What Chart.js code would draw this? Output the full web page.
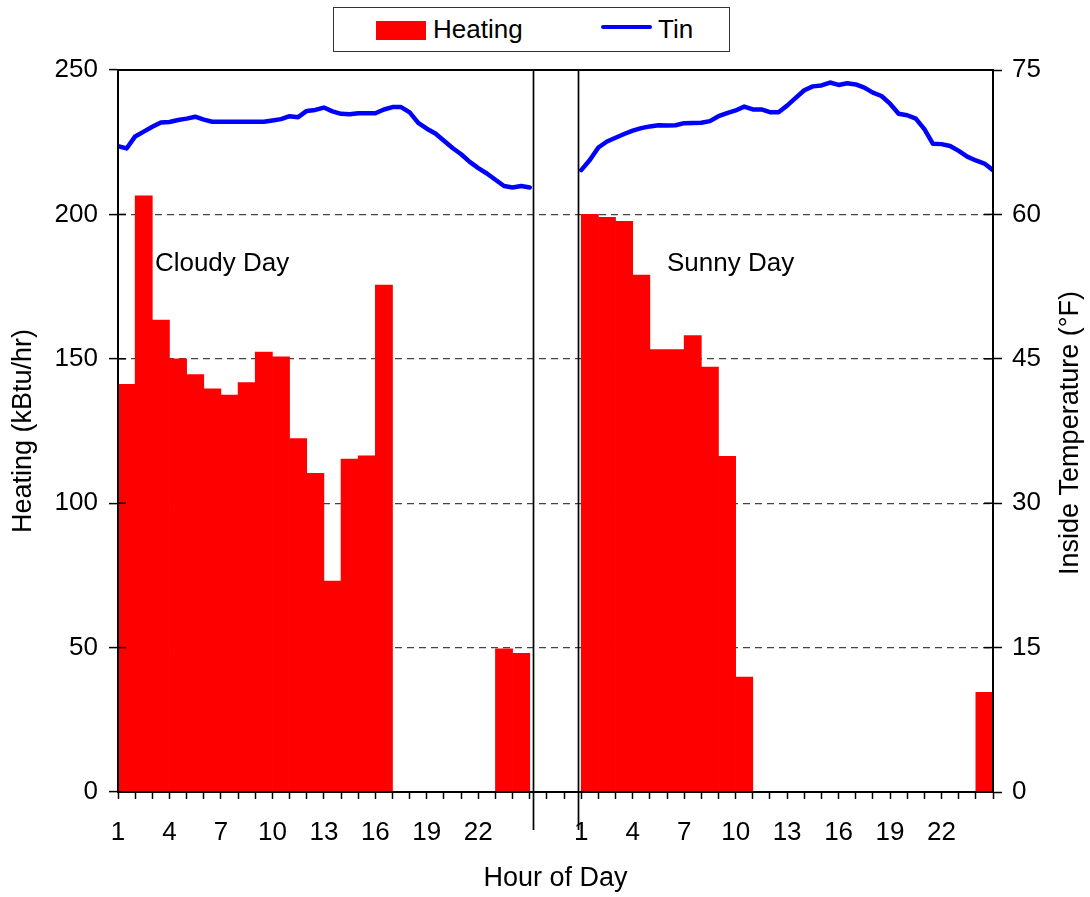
<!DOCTYPE html>
<html>
<head>
<meta charset="utf-8">
<title>Heating and inside temperature</title>
<script src="https://cdn.jsdelivr.net/npm/chart.js@4.4.1/dist/chart.umd.min.js"></script>
<style>
    html, body { margin: 0; padding: 0; background: #fff; }
    #wrap { position: relative; width: 1090px; height: 897px; overflow: hidden; }
    #legend {
        position: absolute; left: 333px; top: 7px; width: 397px; height: 45px;
        box-sizing: border-box; border: 1px solid #333; background: #fff;
        font-family: 'Liberation Sans', Arial, sans-serif; font-size: 26px; color: #000;
    }
    #legend .item { position: absolute; top: 0; height: 43px; display: flex; align-items: center; }
    #legend .swatch { margin-right: 7px; }
</style>
</head>
<body>
<div id="wrap">
    <canvas id="chart"></canvas>
    <div id="legend"></div>
</div>
<script>
// Heating load per hour (kBtu/hr), hours 1..24
const heatingCloudy = [141.2, 206.4, 163.4, 150, 144.5, 139.6, 137.4, 141.8, 152.3, 150.7, 122.4, 110.3,
                       73, 115.3, 116.4, 175.5, 0, 0, 0, 0, 0, 0, 49.6, 48];
const heatingSunny = [200, 199, 197.6, 179, 153.2, 153.2, 158, 147.1, 116.2, 39.8, 0, 0,
                      0, 0, 0, 0, 0, 0, 0, 0, 0, 0, 0, 34.5];

// Inside temperature (F), every half hour from hour 1 to hour 25
const tinCloudy = [67.1, 66.85, 68.1, 68.6, 69.1, 69.55, 69.6, 69.8, 69.95, 70.15,
                   69.85, 69.62, 69.62, 69.62, 69.62, 69.62, 69.62, 69.62, 69.75, 69.9,
                   70.2, 70.1, 70.75, 70.85, 71.1, 70.7, 70.45, 70.4, 70.5, 70.5,
                   70.5, 70.9, 71.15, 71.15, 70.6, 69.5, 68.9, 68.4, 67.65, 66.9,
                   66.25, 65.45, 64.8, 64.25, 63.6, 62.95, 62.8, 62.95, 62.8];
const tinSunny = [64.6, 65.65, 66.95, 67.57, 67.96, 68.35, 68.7, 68.96, 69.14, 69.25,
                  69.24, 69.26, 69.48, 69.5, 69.52, 69.69, 70.2, 70.52, 70.8, 71.2,
                  70.9, 70.9, 70.62, 70.62, 71.3, 72.1, 72.9, 73.3, 73.4, 73.7,
                  73.45, 73.62, 73.5, 73.17, 72.65, 72.3, 71.5, 70.45, 70.3, 69.95,
                  68.85, 67.33, 67.3, 67.1, 66.6, 66.0, 65.6, 65.28, 64.6];

const hourLabels = [1, 4, 7, 10, 13, 16, 19, 22];
const dayNames = ['Cloudy Day', 'Sunny Day'];

// second day is drawn 27 hour-slots after the first one
const dayTwoOffset = 27;
const separatorHours = [25.2, 27.8];
const noteHours = [3.15, 33.0];
const noteHeat = 180.5;

const FONT = "'Liberation Sans', Arial, sans-serif";
Chart.defaults.font.family = FONT;
Chart.defaults.color = '#000';

function buildBars() {
    const pts = [];
    heatingCloudy.forEach((v, i) => pts.push({ x: i + 1.5, y: v }));
    heatingSunny.forEach((v, i) => pts.push({ x: dayTwoOffset + i + 1.5, y: v }));
    return pts;
}

function buildTin() {
    const pts = [];
    tinCloudy.forEach((v, i) => pts.push({ x: 1 + i * 0.5, y: v }));
    pts.push({ x: 26, y: null });
    tinSunny.forEach((v, i) => pts.push({ x: dayTwoOffset + 1 + i * 0.5, y: v }));
    return pts;
}

function xTickLabel(value) {
    if (value <= 24 && hourLabels.includes(value)) return String(value);
    if (value > dayTwoOffset && hourLabels.includes(value - dayTwoOffset)) return String(value - dayTwoOffset);
    return '';
}

// frame, separators, inner ticks, day notes and right axis title
const extrasPlugin = {
    id: 'extras',
    afterDraw(chart) {
        const { ctx, chartArea: a, scales } = chart;
        ctx.save();
        ctx.strokeStyle = '#000';

        ctx.lineWidth = 1.7;
        separatorHours.forEach(h => {
            const x = Math.round(scales.x.getPixelForValue(h)) + 0.5;
            ctx.beginPath();
            ctx.moveTo(x, a.top);
            ctx.lineTo(x, a.bottom + 38);
            ctx.stroke();
        });

        ctx.lineWidth = 1.5;
        scales.y.ticks.forEach((t, i) => {
            const y = scales.y.getPixelForTick(i);
            ctx.beginPath(); ctx.moveTo(a.left, y); ctx.lineTo(a.left + 8, y); ctx.stroke();
        });
        scales.y1.ticks.forEach((t, i) => {
            const y = scales.y1.getPixelForTick(i);
            ctx.beginPath(); ctx.moveTo(a.right - 9, y); ctx.lineTo(a.right, y); ctx.stroke();
        });

        ctx.lineWidth = 2;
        ctx.strokeRect(a.left, a.top, a.right - a.left, a.bottom - a.top);

        ctx.fillStyle = '#000';
        ctx.font = '26px ' + FONT;
        ctx.textAlign = 'left';
        ctx.textBaseline = 'alphabetic';
        dayNames.forEach((name, i) => {
            ctx.fillText(name, scales.x.getPixelForValue(noteHours[i]), scales.y.getPixelForValue(noteHeat));
        });

        ctx.font = '27px ' + FONT;
        ctx.textAlign = 'center';
        ctx.textBaseline = 'middle';
        ctx.translate(scales.y1.right - 19, (a.top + a.bottom) / 2 + 2);
        ctx.rotate(-Math.PI / 2);
        ctx.fillText('Inside Temperature (\u00B0F)', 0, 0);
        ctx.restore();
    }
};

const chart = new Chart(document.getElementById('chart'), {
    data: {
        datasets: [
            {
                type: 'line',
                label: 'Tin',
                data: buildTin(),
                xAxisID: 'x',
                yAxisID: 'y1',
                borderColor: '#0000FF',
                backgroundColor: '#0000FF',
                borderWidth: 4.5,
                borderJoinStyle: 'round',
                borderCapStyle: 'round',
                pointRadius: 0,
                tension: 0,
                spanGaps: false,
                order: 1
            },
            {
                type: 'bar',
                label: 'Heating',
                data: buildBars(),
                xAxisID: 'x',
                yAxisID: 'y',
                backgroundColor: '#FF0000',
                borderWidth: 0,
                barPercentage: 1,
                categoryPercentage: 1,
                order: 2
            }
        ]
    },
    options: {
        responsive: true,
        maintainAspectRatio: false,
        animation: false,
        layout: { padding: { top: 70, left: 0, right: 0, bottom: 0 } },
        plugins: {
            legend: { display: false },
            tooltip: { enabled: false }
        },
        scales: {
            x: {
                type: 'linear',
                position: 'bottom',
                offset: false,
                min: 1,
                max: 52,
                afterFit: s => { s.height = 105; },
                ticks: {
                    stepSize: 1,
                    autoSkip: false,
                    maxRotation: 0,
                    padding: 18,
                    font: { size: 26 },
                    callback: v => xTickLabel(v)
                },
                grid: { offset: false, drawOnChartArea: false, tickLength: 7, tickColor: '#000', tickWidth: 1.5 },
                border: { color: '#000', width: 2 },
                title: { display: true, text: 'Hour of Day', font: { size: 27 }, padding: { top: 0, bottom: 2 } }
            },
            y: {
                position: 'left',
                min: 0,
                max: 250,
                afterFit: s => { s.width = 118; },
                ticks: { stepSize: 50, padding: 11, font: { size: 26 } },
                grid: {
                    color: c => (c.tick.value === 0 || c.tick.value === 250) ? 'rgba(0,0,0,0)' : '#444',
                    lineWidth: 1.2,
                    tickLength: 9,
                    tickColor: '#000',
                    tickWidth: 1.5
                },
                border: { color: '#000', width: 2, dash: [7, 5] },
                title: { display: true, text: 'Heating (kBtu/hr)', font: { size: 27 }, padding: { top: 7, bottom: 0 } }
            },
            y1: {
                position: 'right',
                min: 0,
                max: 75,
                afterFit: s => { s.width = 97; },
                ticks: { stepSize: 15, padding: 10, font: { size: 26 } },
                grid: { drawOnChartArea: false, tickLength: 9, tickColor: '#000', tickWidth: 1.5 },
                border: { color: '#000', width: 2 }
            }
        }
    },
    plugins: [extrasPlugin]
});

// legend box built from the datasets
const legendEl = document.getElementById('legend');
const legendLeft = { Heating: 42, Tin: 267 };
['Heating', 'Tin'].forEach(name => {
    const ds = chart.data.datasets.find(d => d.label === name);
    const item = document.createElement('div');
    item.className = 'item';
    item.style.left = legendLeft[name] + 'px';
    const sw = document.createElement('span');
    sw.className = 'swatch';
    if (ds.type === 'bar') {
        sw.style.cssText = 'display:inline-block;width:50px;height:19px;margin-top:2px;background:' + ds.backgroundColor;
    } else {
        sw.style.cssText = 'display:inline-block;width:51px;height:4px;margin-bottom:5px;border-radius:2px;background:' + ds.borderColor;
        sw.style.marginRight = '6px';
    }
    const txt = document.createElement('span');
    txt.textContent = ds.label;
    item.appendChild(sw);
    item.appendChild(txt);
    legendEl.appendChild(item);
});
</script>
</body>
</html>
